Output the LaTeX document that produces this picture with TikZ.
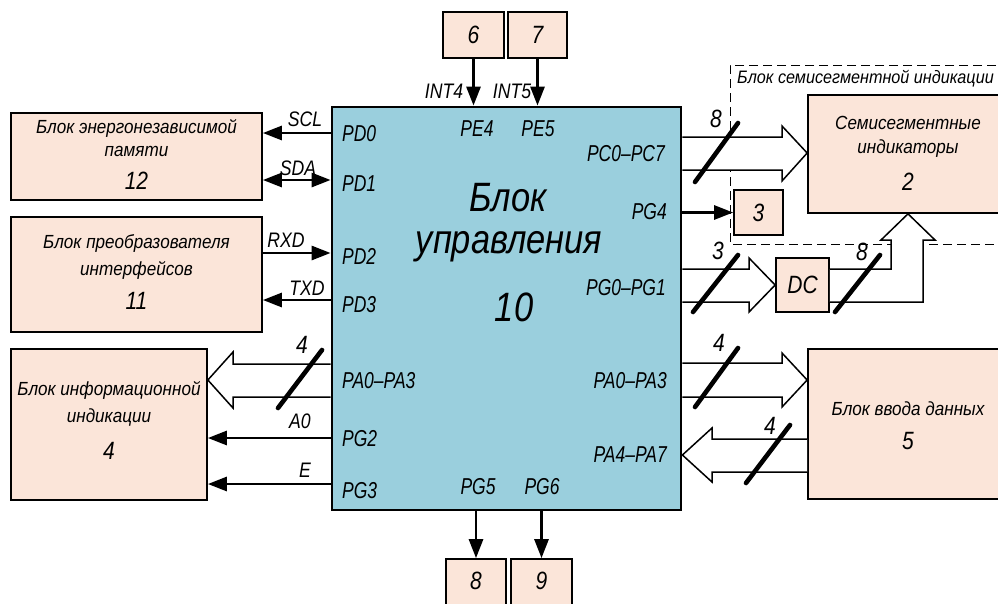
\documentclass[tikz,border=0pt]{standalone}
\usepackage{fontspec}
\setmainfont{Liberation Sans}[FakeStretch=0.9]
\newfontfamily\narfont{Liberation Sans}[FakeStretch=0.76]
\newfontfamily\midfont{Liberation Sans}[FakeStretch=0.84]
\usetikzlibrary{arrows.meta,calc}
\definecolor{peach}{RGB}{251,229,217}
\definecolor{mainblue}{RGB}{154,207,221}
\tikzset{
  x=1pt, y=-1pt,
  blk/.style={draw=black, line width=1.7pt, fill=peach, inner sep=0pt},
  mainblk/.style={draw=black, line width=2.8pt, fill=mainblue, inner sep=0pt,
    minimum width=349pt, minimum height=403pt},
  sig/.style={line width=2.8pt, -{Triangle[length=19pt,width=14pt]}},
  sigb/.style={line width=2.8pt, {Triangle[length=19pt,width=14pt]}-{Triangle[length=19pt,width=14pt]}},
  fat/.style={draw=black, fill=white, line width=1.5pt, line join=miter},
  bus/.style={line width=4.6pt, line cap=round},
  txt/.style={font=\fontsize{19}{21}\selectfont\itshape, inner sep=0pt},
  num/.style={font=\midfont\fontsize{25}{27}\selectfont\itshape, inner sep=0pt},
  pin/.style={font=\narfont\fontsize{23}{25}\selectfont\itshape, inner sep=0pt},
  sl/.style={font=\midfont\fontsize{21}{23}\selectfont\itshape, inner sep=0pt},
  big/.style={font=\midfont\fontsize{41}{44}\selectfont\itshape, inner sep=0pt},
}
\begin{document}
\begin{tikzpicture}
\useasboundingbox (0,0) rectangle (998,603);
\fill[white] (0,0) rectangle (998,603);

% dashed group frame
\draw[line width=1pt, dash pattern=on 9pt off 5pt] (1010,65) -- (730,65) -- (730,244) -- (1010,244);
\node[txt, font=\fontsize{18}{20}\selectfont\itshape, anchor=west] (grp) at (737,79) {Блок семисегментной индикации};

% main block
\node[mainblk] (main) at (506.5,308.5) {};

% blocks
\node[blk, minimum width=251pt, minimum height=87pt] (b12) at (136.5,156.5) {};
\node[blk, minimum width=251pt, minimum height=115pt] (b11) at (136.5,274.5) {};
\node[blk, minimum width=196pt, minimum height=151pt] (b4) at (109,424.5) {};
\node[blk, minimum width=61pt, minimum height=46pt] (b6) at (473.5,35) {};
\node[blk, minimum width=59pt, minimum height=46pt] (b7) at (537.5,35) {};
\node[blk, minimum width=60pt, minimum height=62pt] (b8) at (476,590) {};
\node[blk, minimum width=61pt, minimum height=62pt] (b9) at (541.5,590) {};
\node[blk, minimum width=49pt, minimum height=45pt] (b3) at (758.5,212.5) {};
\node[blk, minimum width=53pt, minimum height=54pt] (dc) at (802.5,285) {};
\node[blk, minimum width=200pt, minimum height=118pt] (seg) at (908,154) {};
\node[blk, minimum width=200pt, minimum height=150pt] (b5) at (908,424) {};

% block texts
\node[txt] (t12a) at (136.5,128) {Блок энергонезависимой};
\node[txt] (t12b) at (136.5,151) {памяти};
\node[num] (t12c) at (136.5,181) {12};
\node[txt] (t11a) at (136.5,243) {Блок преобразователя};
\node[txt] (t11b) at (136.5,270) {интерфейсов};
\node[num] (t11c) at (136.5,301) {11};
\node[txt] (t4a) at (109,390) {Блок информационной};
\node[txt] (t4b) at (109,417) {индикации};
\node[num] (t4c) at (109,451) {4};
\node[num] (t6) at (b6) {6};
\node[num] (t7) at (b7) {7};
\node[num] (t8) at (476,581) {8};
\node[num] (t9) at (541.5,581) {9};
\node[num] (t3) at (b3) {3};
\node[num] (tdc) at (dc) {DC};
\node[txt] (t2a) at (908,123) {Семисегментные};
\node[txt] (t2b) at (908,149) {индикаторы};
\node[num] (t2c) at (908,182) {2};
\node[txt] (t5a) at (908,409) {Блок ввода данных};
\node[num] (t5b) at (908,441) {5};

% main texts
\node[big] (m1) at (508,198) {Блок};
\node[big] (m2) at (509,247) {управления};
\node[big] (m3) at (514,307) {10};

% pin labels
\node[pin, anchor=west] (pd0) at (342,134) {PD0};
\node[pin, anchor=west] (pd1) at (342,184) {PD1};
\node[pin, anchor=west] (pd2) at (342,256) {PD2};
\node[pin, anchor=west] (pd3) at (342,305) {PD3};
\node[pin, anchor=west] (pa03l) at (342,381) {PA0–PA3};
\node[pin, anchor=west] (pg2) at (342,439) {PG2};
\node[pin, anchor=west] (pg3) at (342,491) {PG3};
\node[pin] (pe4) at (477,129) {PE4};
\node[pin] (pe5) at (538,129) {PE5};
\node[pin] (pg5) at (478,487) {PG5};
\node[pin] (pg6) at (542,487) {PG6};
\node[pin, anchor=east] (pc) at (665,154) {PC0–PC7};
\node[pin, anchor=east] (pg4) at (667,212) {PG4};
\node[pin, anchor=east] (pg01) at (666,288) {PG0–PG1};
\node[pin, anchor=east] (pa03r) at (667,381) {PA0–PA3};
\node[pin, anchor=east] (pa47) at (667,455) {PA4–PA7};

% signal lines
\draw[sig] (main.west |- 0,133) -- (b12.east |- 0,133);
\draw[sigb] (b12.east |- 0,180) -- (main.west |- 0,180);
\draw[sig] (b11.east |- 0,253) -- (main.west |- 0,253);
\draw[sig] (main.west |- 0,300) -- (b11.east |- 0,300);
\draw[sig] (main.west |- 0,438) -- (b4.east |- 0,438);
\draw[sig] (main.west |- 0,484) -- (b4.east |- 0,484);
\draw[sig] (b6.south) -- (b6.south |- main.north);
\draw[sig] (b7.south) -- (b7.south |- main.north);
\draw[sig] (b8.north |- main.south) -- (b8.north);
\draw[sig] (b9.north |- main.south) -- (b9.north);
\draw[sig] (main.east |- b3.west) -- (b3.west);

\node[sl] (lscl) at (305,119) {SCL};
\node[sl] (lsda) at (298,168) {SDA};
\node[sl] (lrxd) at (286,240) {RXD};
\node[sl] (ltxd) at (307,288) {TXD};
\node[sl] (la0) at (300,421) {A0};
\node[sl] (le) at (305,470) {E};
\node[sl] (lint4) at (444,91) {INT4};
\node[sl] (lint5) at (512,91) {INT5};

% fat bus arrows
\filldraw[fat] (main.east |- 0,137) -- (782,137) -- (782,126) -- (seg.west |- 0,153) -- (782,181) -- (782,170) -- (main.east |- 0,170);
\filldraw[fat] (main.east |- 0,269) -- (749,269) -- (749,258) -- (dc.west) -- (749,312) -- (749,302) -- (main.east |- 0,302);
\filldraw[fat] (dc.east |- 0,269) -- (891,269) -- (891,240) -- (881,240) -- (seg.south) -- (935,240) -- (923,240) -- (923,302) -- (dc.east |- 0,302);
\filldraw[fat] (main.west |- 0,364) -- (233,364) -- (233,352) -- (b4.east |- 0,380) -- (233,408) -- (233,397) -- (main.west |- 0,397);
\filldraw[fat] (main.east |- 0,363) -- (782,363) -- (782,353) -- (b5.west |- 0,380) -- (782,407) -- (782,397) -- (main.east |- 0,397);
\filldraw[fat] (b5.west |- 0,439) -- (712,439) -- (712,428) -- (main.east |- 0,455) -- (712,482) -- (712,472) -- (b5.west |- 0,472);

% bus width slashes
\draw[bus] (695,182) -- (738,123);
\draw[bus] (693,312) -- (738,255);
\draw[bus] (835,312) -- (880,255);
\draw[bus] (278,408) -- (322,350);
\draw[bus] (695,407) -- (738,348);
\draw[bus] (746,483) -- (790,425);
\node[num] (n8a) at (716,119) {8};
\node[num] (n3) at (718,251) {3};
\node[num] (n8b) at (862,252) {8};
\node[num] (n4a) at (302,345) {4};
\node[num] (n4b) at (719,343) {4};
\node[num] (n4c) at (770,426) {4};
\end{tikzpicture}
\end{document}
